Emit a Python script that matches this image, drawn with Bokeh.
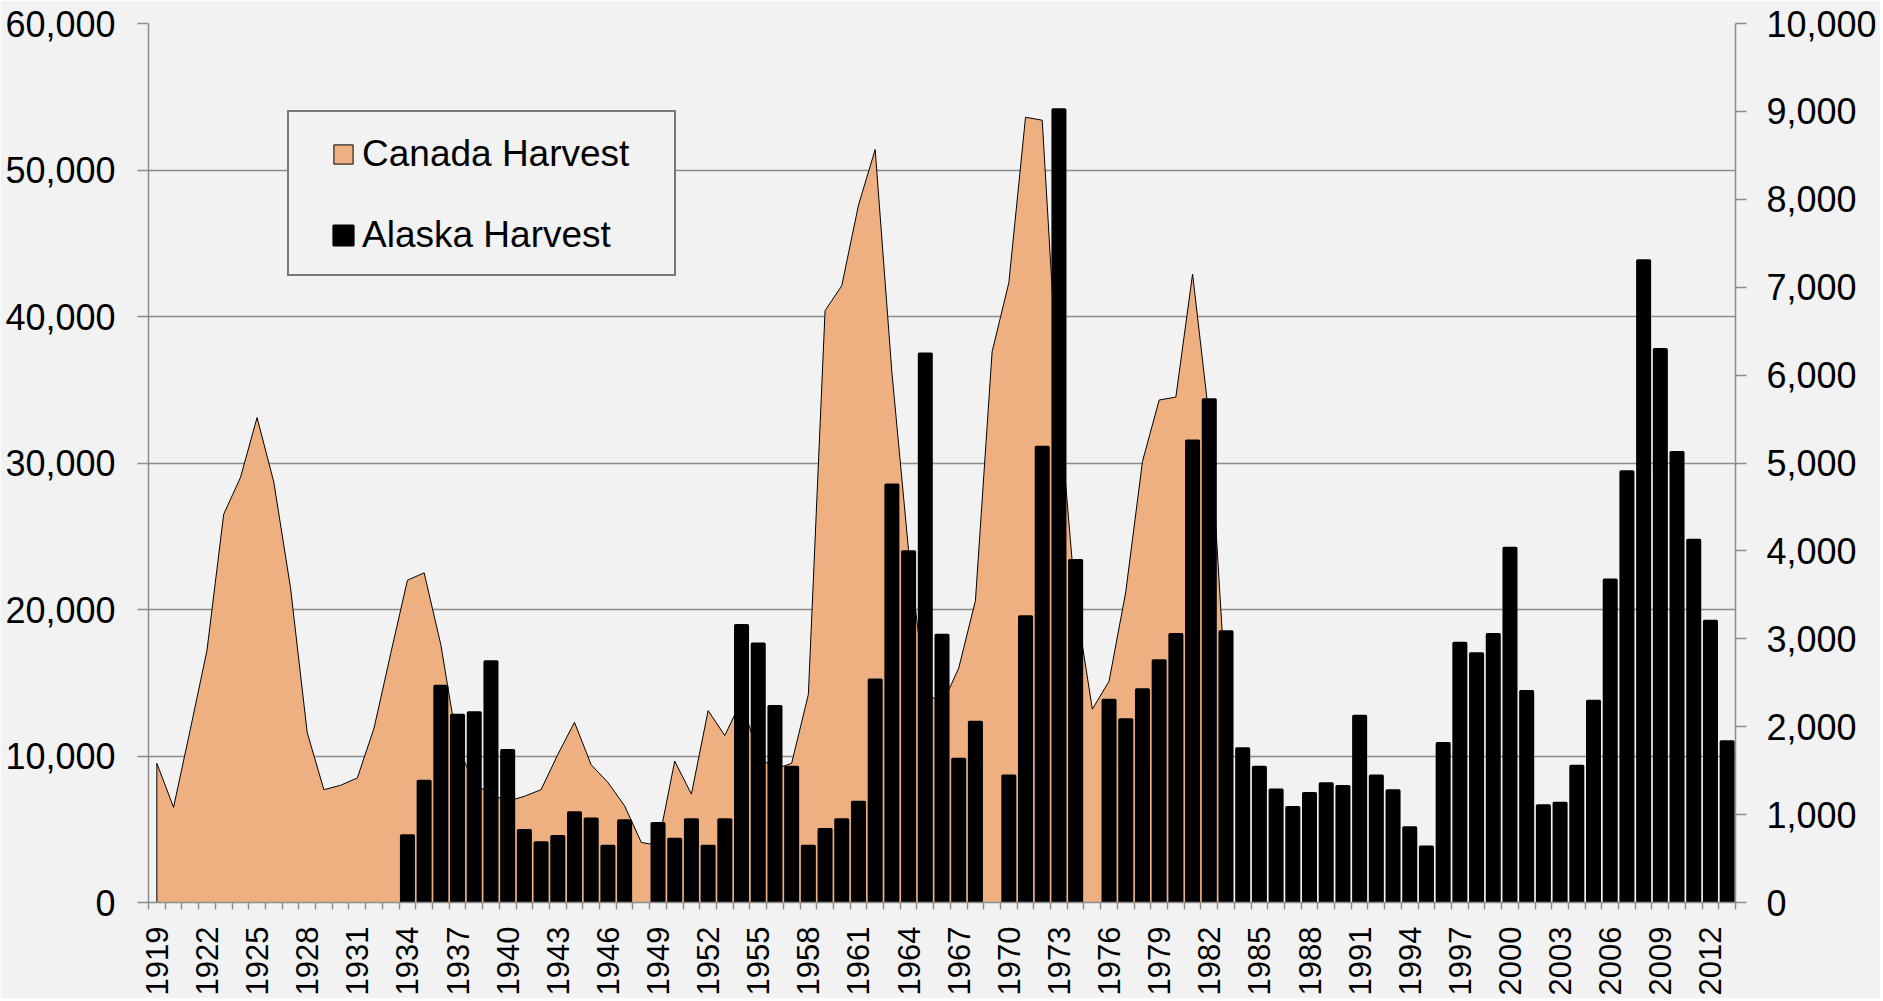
import math
from bokeh.plotting import figure
from bokeh.models import (Range1d, LinearAxis, FixedTicker, NumeralTickFormatter,
                          Legend, LegendItem)
from bokeh.embed import file_html
from bokeh.resources import INLINE

# ---------------- data ----------------
years = list(range(1919, 2014))

canada_years = list(range(1919, 1984))
canada_harvest = [
    9500, 6500, 11800, 17200, 26500, 29000, 33100, 28700, 21500, 11600,   # 1919-1928
    7700, 8000, 8500, 11900, 17000, 22000, 22500, 17600, 10700, 8100,     # 1929-1938
    7400, 6900, 7250, 7700, 10100, 12300, 9400, 8200, 6600, 4100,         # 1939-1948
    3900, 9650, 7400, 13100, 11400, 13800, 10000, 9100, 9500, 14200,      # 1949-1958
    40400, 42100, 47600, 51400, 36200, 24000, 14400, 13500, 16000, 20600, # 1959-1968
    37600, 42300, 53600, 53400, 34000, 20500, 13200, 15100, 21200, 30100, # 1969-1978
    34300, 34500, 42900, 33000, 14200,                                    # 1979-1983
]

alaska_years = list(range(1934, 2014))
alaska_harvest = [
    760, 1380, 2460, 2130, 2160, 2740, 1730, 820, 680, 750,               # 1934-1943
    1020, 950, 640, 930, None, 900, 720, 940, 640, 940,                   # 1944-1953
    3150, 2940, 2230, 1540, 640, 830, 940, 1140, 2530, 4750,              # 1954-1963
    3990, 6240, 3040, 1630, 2050, None, 1440, 3250, 5180, 9020,           # 1964-1973
    3890, None, 2300, 2080, 2420, 2750, 3050, 5250, 5720, 3080,           # 1974-1983
    1750, 1540, 1280, 1080, 1240, 1350, 1320, 2120, 1440, 1270,           # 1984-1993
    850, 630, 1810, 2950, 2830, 3050, 4030, 2400, 1100, 1130,             # 1994-2003
    1550, 2290, 3670, 4900, 7300, 6290, 5120, 4120, 3200, 1830,           # 2004-2013
]

left_ticks = [0, 10000, 20000, 30000, 40000, 50000, 60000]
right_ticks = [0, 1000, 2000, 3000, 4000, 5000, 6000, 7000, 8000, 9000, 10000]
label_years = years[::3]

# ---------------- styles ----------------
BG = "#f2f2f2"
GRID = "#8c8c8c"
ORANGE = "#EEB081"
FONT = "Liberation Sans"

p = figure(width=1880, height=998, output_backend="svg", toolbar_location=None,
           x_range=Range1d(years[0] - 0.5, years[-1] + 0.5),
           y_range=Range1d(left_ticks[0], left_ticks[-1]),
           min_border_left=148, min_border_right=145,
           min_border_top=23, min_border_bottom=93)
p.extra_y_ranges = {"alaska": Range1d(right_ticks[0], right_ticks[-1])}
p.background_fill_color = BG
p.border_fill_color = BG
p.outline_line_color = None

# grid
p.xgrid.visible = False
p.ygrid.ticker = FixedTicker(ticks=left_ticks)
p.ygrid.grid_line_color = GRID
p.ygrid.grid_line_width = 1.5

# x axis
xa = p.xaxis[0]
boundaries = [y - 0.5 for y in years] + [years[-1] + 0.5]
xa.ticker = FixedTicker(ticks=label_years, minor_ticks=boundaries)
xa.major_label_overrides = {y: str(y) for y in label_years}
xa.major_label_orientation = math.pi / 2
xa.major_tick_out = 0
xa.major_tick_in = 0
xa.minor_tick_out = 7
xa.minor_tick_in = 0
xa.minor_tick_line_color = GRID
xa.minor_tick_line_width = 1.5
xa.axis_line_color = GRID
xa.axis_line_width = 1.5
xa.major_label_standoff = 17
xa.major_label_text_font = FONT
xa.major_label_text_font_size = "31px"
xa.major_label_text_color = "black"

# left axis
ya = p.yaxis[0]
ya.ticker = FixedTicker(ticks=left_ticks)
ya.formatter = NumeralTickFormatter(format="0,0")
ya.major_tick_out = 11
ya.major_tick_in = 0
ya.minor_tick_out = 0
ya.minor_tick_in = 0
ya.major_tick_line_color = GRID
ya.major_tick_line_width = 1.5
ya.axis_line_color = GRID
ya.axis_line_width = 1.5
ya.major_label_standoff = 22
ya.major_label_text_font = FONT
ya.major_label_text_font_size = "36px"
ya.major_label_text_color = "black"

# right axis
ra = LinearAxis(y_range_name="alaska", ticker=FixedTicker(ticks=right_ticks),
                formatter=NumeralTickFormatter(format="0,0"))
ra.major_tick_out = 11
ra.major_tick_in = 0
ra.minor_tick_out = 0
ra.minor_tick_in = 0
ra.major_tick_line_color = GRID
ra.major_tick_line_width = 1.5
ra.axis_line_color = GRID
ra.axis_line_width = 1.5
ra.major_label_standoff = 20
ra.major_label_text_font = FONT
ra.major_label_text_font_size = "36px"
ra.major_label_text_color = "black"
p.add_layout(ra, "right")

# Canada area
cx = [canada_years[0]] + canada_years + [canada_years[-1]]
cy = [0] + canada_harvest + [0]
r_can = p.patch(cx, cy, fill_color=ORANGE, line_color="black", line_width=1)

# Alaska bars
ax = [y for y, v in zip(alaska_years, alaska_harvest) if v is not None]
av = [v for v in alaska_harvest if v is not None]
r_al = p.vbar(x=ax, top=av, bottom=0, width=0.72, y_range_name="alaska",
              fill_color="black", line_color="black", line_width=3,
              line_join="round")

# legend frame (box only)
r_dummy = p.vbar(x=[], top=[], width=0.5, fill_alpha=0, line_alpha=0)
frame_legend = Legend(items=[LegendItem(label=" ", renderers=[r_dummy])],
                      location=(139, 626), margin=0, padding=0, spacing=0,
                      glyph_width=1, glyph_height=1, label_standoff=0,
                      label_width=384, label_height=162,
                      label_text_alpha=0, label_text_font_size="10px",
                      border_line_color="black", border_line_width=2,
                      background_fill_color=BG, background_fill_alpha=1.0)
p.add_layout(frame_legend)

legend = Legend(items=[LegendItem(label="Canada Harvest", renderers=[r_can]),
                       LegendItem(label="Alaska Harvest", renderers=[r_al])],
                location=(164, 626), margin=0, padding=19, spacing=37,
                glyph_width=24, glyph_height=24, label_standoff=7,
                label_height=44,
                label_text_font=FONT, label_text_font_size="37px",
                label_text_color="black",
                border_line_alpha=0, background_fill_alpha=0)
p.add_layout(legend)

open("out.html", "w").write(file_html(p, INLINE))
